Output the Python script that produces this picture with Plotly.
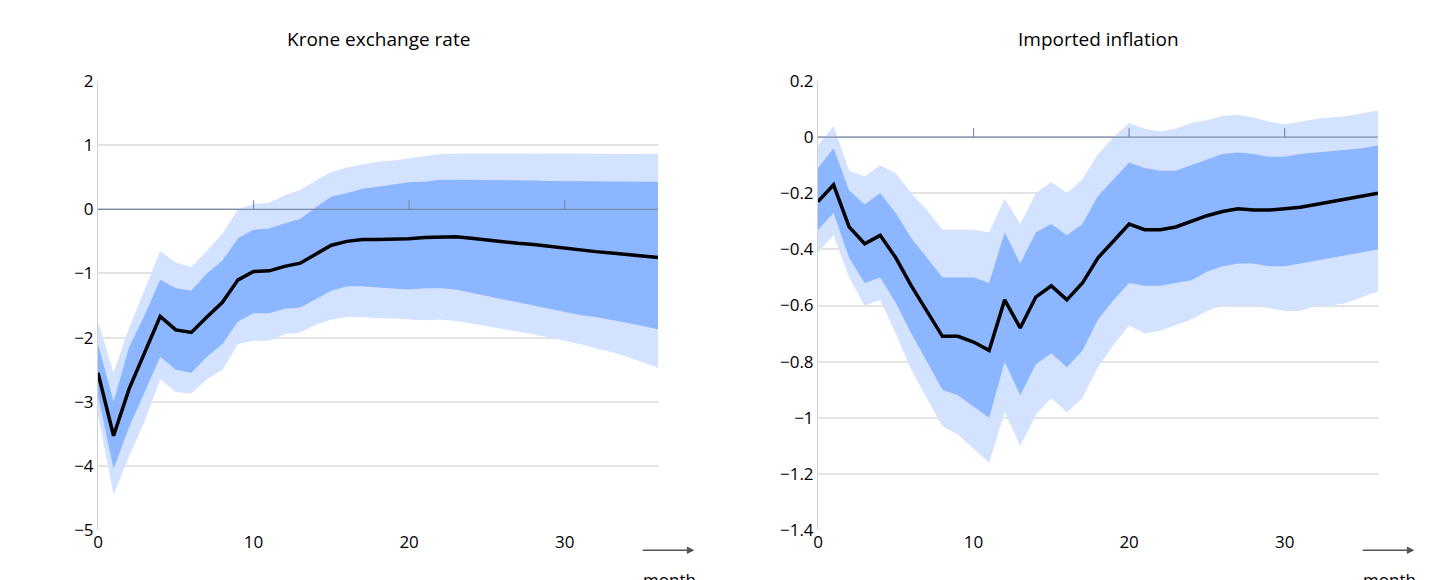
import plotly.graph_objects as go
from plotly.subplots import make_subplots

months = list(range(37))
titles = ["Krone exchange rate", "Imported inflation"]

krone_med = [-2.55,-3.53,-2.8,-2.25,-1.67,-1.88,-1.92,-1.68,-1.45,-1.1,-0.97,-0.96,-0.89,-0.84,-0.7,-0.56,-0.5,-0.47,-0.47,-0.47,-0.46,-0.44,-0.43,-0.43,-0.45,-0.48,-0.5,-0.53,-0.55,-0.58,-0.6,-0.63,-0.66,-0.68,-0.7,-0.73,-0.75]
krone_in_hi = [-2.1,-3.0,-2.15,-1.65,-1.1,-1.23,-1.27,-1.0,-0.8,-0.45,-0.32,-0.3,-0.22,-0.15,0.03,0.2,0.25,0.32,0.35,0.38,0.42,0.43,0.46,0.46,0.46,0.46,0.46,0.45,0.45,0.44,0.44,0.43,0.43,0.43,0.43,0.43,0.43]
krone_in_lo = [-2.9,-4.05,-3.4,-2.85,-2.3,-2.5,-2.55,-2.3,-2.1,-1.75,-1.62,-1.62,-1.55,-1.53,-1.4,-1.27,-1.2,-1.2,-1.22,-1.24,-1.25,-1.23,-1.23,-1.25,-1.3,-1.35,-1.4,-1.45,-1.5,-1.55,-1.6,-1.65,-1.68,-1.72,-1.77,-1.82,-1.87]
krone_out_hi = [-1.75,-2.55,-1.85,-1.25,-0.65,-0.83,-0.9,-0.65,-0.38,0.0,0.08,0.1,0.22,0.3,0.45,0.58,0.65,0.7,0.74,0.76,0.8,0.83,0.86,0.87,0.87,0.87,0.87,0.87,0.87,0.86,0.86,0.86,0.86,0.86,0.86,0.86,0.86]
krone_out_lo = [-3.2,-4.45,-3.85,-3.3,-2.65,-2.85,-2.87,-2.65,-2.5,-2.1,-2.05,-2.05,-1.95,-1.92,-1.8,-1.72,-1.68,-1.68,-1.7,-1.7,-1.72,-1.73,-1.72,-1.74,-1.78,-1.82,-1.86,-1.9,-1.95,-2.0,-2.05,-2.1,-2.17,-2.22,-2.3,-2.38,-2.47]

inf_med = [-0.23,-0.17,-0.32,-0.38,-0.35,-0.43,-0.53,-0.62,-0.71,-0.71,-0.73,-0.76,-0.58,-0.68,-0.57,-0.53,-0.58,-0.52,-0.43,-0.37,-0.31,-0.33,-0.33,-0.32,-0.30,-0.28,-0.265,-0.255,-0.26,-0.26,-0.255,-0.25,-0.24,-0.23,-0.22,-0.21,-0.20]
inf_in_hi = [-0.11,-0.04,-0.19,-0.24,-0.2,-0.27,-0.36,-0.43,-0.5,-0.5,-0.5,-0.52,-0.34,-0.45,-0.34,-0.31,-0.35,-0.31,-0.21,-0.15,-0.09,-0.11,-0.12,-0.12,-0.10,-0.08,-0.06,-0.055,-0.06,-0.07,-0.07,-0.06,-0.055,-0.05,-0.045,-0.04,-0.03]
inf_in_lo = [-0.33,-0.27,-0.43,-0.52,-0.5,-0.59,-0.7,-0.8,-0.9,-0.92,-0.96,-1.0,-0.8,-0.92,-0.81,-0.77,-0.82,-0.76,-0.65,-0.58,-0.52,-0.53,-0.53,-0.52,-0.51,-0.48,-0.46,-0.45,-0.45,-0.46,-0.46,-0.45,-0.44,-0.43,-0.42,-0.41,-0.40]
inf_out_hi = [-0.03,0.04,-0.12,-0.14,-0.1,-0.13,-0.2,-0.26,-0.33,-0.33,-0.33,-0.34,-0.22,-0.31,-0.2,-0.16,-0.2,-0.15,-0.06,0.0,0.05,0.03,0.02,0.03,0.05,0.06,0.075,0.08,0.07,0.055,0.045,0.055,0.065,0.07,0.075,0.085,0.095]
inf_out_lo = [-0.41,-0.35,-0.5,-0.6,-0.58,-0.7,-0.83,-0.93,-1.03,-1.06,-1.11,-1.16,-0.98,-1.1,-0.99,-0.93,-0.98,-0.93,-0.82,-0.74,-0.67,-0.7,-0.69,-0.67,-0.65,-0.62,-0.6,-0.6,-0.6,-0.61,-0.62,-0.62,-0.6,-0.6,-0.59,-0.57,-0.55]

x_ticks = [0, 10, 20, 30]
LIGHT = "#d2e2ff"
DARK = "#8cb6ff"
FONT = "Open Sans"

fig = make_subplots(rows=1, cols=2, horizontal_spacing=0.125)
panels = [
    (krone_med, krone_in_hi, krone_in_lo, krone_out_hi, krone_out_lo, [-5, 2], 1),
    (inf_med, inf_in_hi, inf_in_lo, inf_out_hi, inf_out_lo, [-1.4, 0.2], 0.2),
]
for i, (med, ihi, ilo, ohi, olo, rng, dt) in enumerate(panels, start=1):
    for hi, lo, col in [(ohi, olo, LIGHT), (ihi, ilo, DARK)]:
        fig.add_trace(go.Scatter(x=months, y=lo, mode="lines", line=dict(width=0), showlegend=False, hoverinfo="skip"), row=1, col=i)
        fig.add_trace(go.Scatter(x=months, y=hi, mode="lines", line=dict(width=0), fill="tonexty", fillcolor=col, showlegend=False, hoverinfo="skip"), row=1, col=i)
    # zero line with tick marks, above the bands
    tlen = (rng[1] - rng[0]) * 0.02
    tx, ty = [months[0], months[-1], None], [0, 0, None]
    for t in x_ticks[1:]:
        tx += [t, t, None]; ty += [0, tlen, None]
    fig.add_trace(go.Scatter(x=tx, y=ty, mode="lines", line=dict(color="#7a8aa8", width=1.2), showlegend=False, hoverinfo="skip"), row=1, col=i)
    fig.add_trace(go.Scatter(x=months, y=med, mode="lines", line=dict(color="black", width=3.5), showlegend=False), row=1, col=i)
    fig.update_xaxes(range=[0, 36], tickvals=x_ticks, showgrid=False, zeroline=False, showline=False,
                     ticks="", tickfont=dict(size=17, family=FONT, color="black"), row=1, col=i)
    fig.update_yaxes(range=rng, dtick=dt, showgrid=True, gridcolor="#e3e3e3", gridwidth=1.5,
                     zeroline=False, showline=True, linecolor="#d0d0d0", linewidth=1, ticks="",
                     tickfont=dict(size=17, family=FONT, color="black"), row=1, col=i)

fig.update_layout(
    width=1445, height=580, plot_bgcolor="white", paper_bgcolor="white",
    margin=dict(l=90, r=75, t=73, b=58),
    font=dict(family=FONT, color="black"),
)

for k, title in enumerate(titles):
    xr = "x domain" if k == 0 else "x2 domain"
    yr = "y domain" if k == 0 else "y2 domain"
    fig.add_annotation(text=title, x=0.5, y=1.06, xref=xr, yref=yr,
                       showarrow=False, font=dict(size=19, family=FONT), yanchor="bottom")
    fig.add_annotation(text="month", x=1.02, y=-0.11, xref=xr, yref=yr,
                       showarrow=False, font=dict(size=17, family=FONT), xanchor="center", yanchor="middle")
    fig.add_annotation(x=1.065, y=-0.045, ax=0.97, ay=-0.045, xref=xr, yref=yr,
                       axref=xr, ayref=yr, showarrow=True, arrowhead=2, arrowsize=1, arrowwidth=1.5,
                       arrowcolor="#555555", text="")

fig.write_html("out.html")
